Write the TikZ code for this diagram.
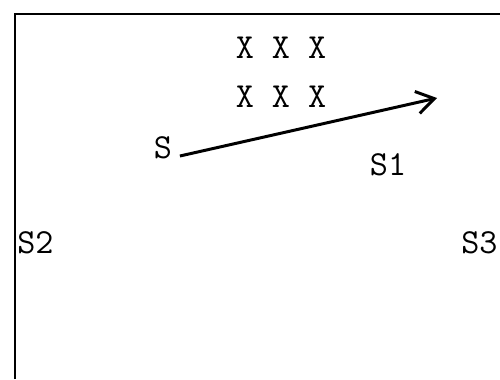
\documentclass[tikz,border=0pt]{standalone}
\usepackage{tikz}
\usetikzlibrary{arrows.meta,calc,positioning}

\begin{document}
\begin{tikzpicture}[>={Straight Barb[length=3.5mm,width=4.5mm]}, font=\ttfamily\fontsize{20}{20}\selectfont,
    lbl/.style={inner sep=0pt}]
    % page and frame
    \useasboundingbox (0,0) rectangle (10,7.58);
    \fill[white] (0,0) rectangle (10,7.58);
    \draw[line width=1.4pt] (0.30,0) -- (0.30,7.30) -- (10,7.30);

    % rows of X
    \node[lbl] (row1) at (5.62, 6.62) {X X X};
    \node[lbl] (row2) at (5.62, 5.64) {X X X};

    % source and arrow
    \node[lbl] (src) at (3.26, 4.62) {S};
    \coordinate (tip) at (8.74, 5.62);
    \draw[->, line width=1.7pt] ($(src.east)+(0.15,-0.16)$) -- (tip);

    % labels
    \node[lbl] (s1) at (7.76, 4.28) {S1};
    \node[lbl, anchor=west] (s2) at (0.34, 2.72) {S2};
    \node[lbl, anchor=west] (s3) at (9.22, 2.72) {S3};
\end{tikzpicture}
\end{document}
